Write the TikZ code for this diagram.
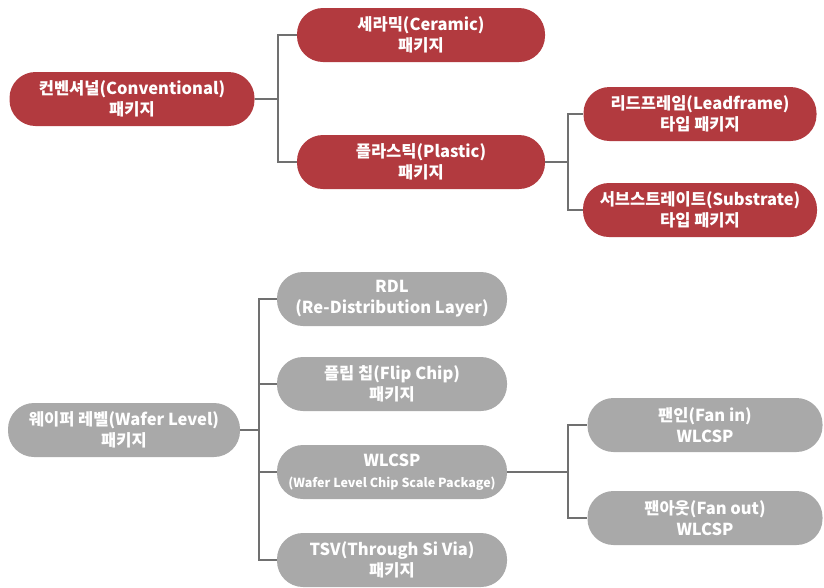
\documentclass[tikz,border=0pt]{standalone}
\usepackage{fontspec}
\setmainfont{Noto Sans CJK KR}
\usetikzlibrary{positioning}
\definecolor{pkgred}{HTML}{B23A3F}
\definecolor{pkggray}{HTML}{A9A9A9}
\definecolor{linkgray}{HTML}{707070}
\begin{document}
\begin{tikzpicture}[x=1pt, y=-1pt,
    pkg/.style={rounded corners=26pt, minimum height=54pt, inner sep=0pt, align=center,
        text=white, font=\bfseries\fontsize{16.5}{21}\selectfont},
    redbox/.style={pkg, fill=pkgred},
    graybox/.style={pkg, fill=pkggray},
    link/.style={draw=linkgray, line width=1.6pt}]
    \useasboundingbox (0,0) rectangle (824,587);

    % conventional
    \node[redbox, minimum width=245pt] (conv) at (132,99) {컨벤셔널(Conventional)\\패키지};
    \node[redbox, minimum width=248pt] (ceramic) at (421,35) {세라믹(Ceramic)\\패키지};
    \node[redbox, minimum width=248pt] (plastic) at (421,162) {플라스틱(Plastic)\\패키지};
    \node[redbox, minimum width=233pt] (lead) at (700,114) {리드프레임(Leadframe)\\타입 패키지};
    \node[redbox, minimum width=234pt] (subst) at (700,210) {서브스트레이트(Substrate)\\타입 패키지};

    \coordinate (j1) at (278,99);
    \coordinate (j2) at (568,162);
    \draw[link] (conv.east) -- (j1);
    \foreach \n in {ceramic,plastic} \draw[link] (j1) |- (\n.west);
    \draw[link] (plastic.east) -- (j2);
    \foreach \n in {lead,subst} \draw[link] (j2) |- (\n.west);

    % wafer level
    \node[graybox, minimum width=232pt] (wafer) at (124,430) {웨이퍼 레벨(Wafer Level)\\패키지};
    \node[graybox, minimum width=230pt] (rdl) at (392,299) {RDL\\(Re-Distribution Layer)};
    \node[graybox, minimum width=230pt] (flip) at (392,384) {플립 칩(Flip Chip)\\패키지};
    \node[graybox, minimum width=230pt] (wlcsp) at (392,472) {WLCSP\\{\fontsize{12.5}{18}\selectfont(Wafer Level Chip Scale Package)}};
    \node[graybox, minimum width=230pt] (tsv) at (392,560) {TSV(Through Si Via)\\패키지};
    \node[graybox, minimum width=235pt] (fanin) at (705,425) {팬인(Fan in)\\WLCSP};
    \node[graybox, minimum width=235pt] (fanout) at (705,518) {팬아웃(Fan out)\\WLCSP};

    \coordinate (j3) at (259,430);
    \coordinate (j4) at (568,472);
    \draw[link] (wafer.east) -- (j3);
    \foreach \n in {rdl,flip,wlcsp,tsv} \draw[link] (j3) |- (\n.west);
    \draw[link] (wlcsp.east) -- (j4);
    \foreach \n in {fanin,fanout} \draw[link] (j4) |- (\n.west);
\end{tikzpicture}
\end{document}
